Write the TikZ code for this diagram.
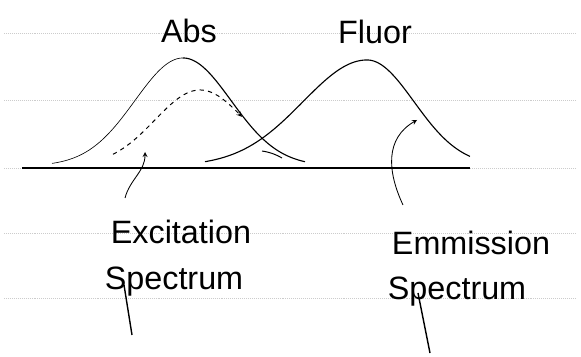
\documentclass[tikz,border=0pt]{standalone}
\usepackage{fontspec}
\setmainfont{Liberation Sans}

\begin{document}
\begin{tikzpicture}[scale=1.0, >=stealth,
    ruled/.style={gray!40, densely dotted, line width=0.4pt},
    hand/.style={font=\fontsize{23}{27}\selectfont, inner sep=0pt}]
    \useasboundingbox (0,0) rectangle (14.525,8.925);

    % faint notebook lines
    \foreach \y in {8.1,6.425,4.725,3.1,1.475}
        \draw[ruled] (0.1,\y) -- (14.4,\y);

    \draw[line width=1.2pt] (0.55,4.725) -- (11.75,4.725);

    % absorption band, left half drawn lighter
    \draw[line width=0.45pt, domain=1.3:4.575, samples=100, smooth, variable=\x]
        plot ({\x}, {4.775 + 2.7*exp(-0.5*((\x-4.575)/1.2)^2)});
    \draw[line width=0.8pt, domain=4.575:7.625, samples=100, smooth, variable=\x]
        plot ({\x}, {4.775 + 2.7*exp(-0.5*((\x-4.575)/1.2)^2)});

    % fluorescence band
    \draw[line width=0.8pt, domain=5.125:9.175, samples=120, smooth, variable=\x]
        plot ({\x}, {4.775 + 2.65*exp(-0.5*((\x-9.175)/1.6)^2)});
    \draw[line width=0.8pt, domain=9.175:11.75, samples=100, smooth, variable=\x]
        plot ({\x}, {4.775 + 2.65*exp(-0.5*((\x-9.175)/1.175)^2)});

    % excitation spectrum (dashed)
    \draw[->, line width=0.7pt, dashed, domain=2.825:6.05, samples=100, smooth, variable=\x]
        plot ({\x}, {4.775 + 1.9*exp(-0.5*((\x-5.0)/1.125)^2)});
    \draw[line width=0.7pt] (6.55,5.15) to[bend left=10] (7.05,4.975);

    \node[hand] (abs) at (4.725,8.14) {Abs};
    \node[hand] (fluor) at (9.375,8.125) {Fluor};
    \node[hand] (exc) at (4.525,3.125) {Excitation};
    \node[hand] (excspec) at (4.35,1.875) {Spectrum};
    \node[hand] (emi) at (11.775,2.85) {Emmission};
    \node[hand] (emispec) at (11.425,1.625) {Spectrum};

    \coordinate (excfoot) at (3.125,3.975);
    \coordinate (exchead) at (3.625,5.125);
    \coordinate (emifoot) at (10.075,3.8);
    \coordinate (emihead) at (10.425,5.925);

    \draw[->, line width=0.6pt] (excfoot) to[out=75, in=-90] (exchead);
    \draw[->, line width=0.6pt] (emifoot) to[out=115, in=210, looseness=1.1] (emihead);

    % pen strokes trailing below the two S's
    \draw[line width=1pt] (3.1,1.8) -- (3.3,0.55);
    \draw[line width=1pt] (10.45,1.6) -- (10.75,0.1);
\end{tikzpicture}
\end{document}
